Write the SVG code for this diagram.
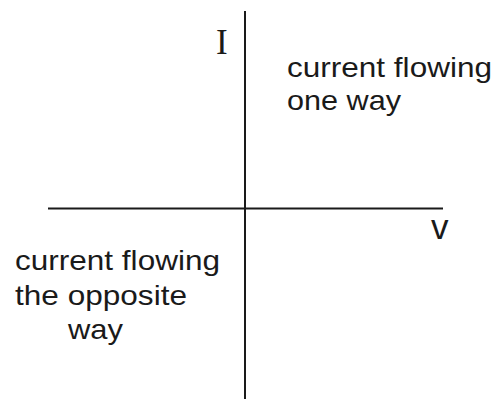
<svg xmlns="http://www.w3.org/2000/svg" width="497" height="399" viewBox="0 0 497 399">
<style>
.ax{stroke:#1a1a1a;stroke-width:2;fill:none}
.t{font-family:"Liberation Sans",Arial,sans-serif;font-size:28px;fill:#1a1a1a}
.s{font-family:"Liberation Serif","Times New Roman",serif;font-size:35px;fill:#1a1a1a}
</style>
<rect width="497" height="399" fill="#ffffff"/>
<g id="axes">
<line class="ax" x1="245" y1="11" x2="245" y2="399"/>
<line class="ax" x1="48" y1="208.5" x2="443" y2="208.5"/>
</g>
<g id="label-I"><text class="s" x="216" y="54">I</text></g>
<g id="label-v"><text class="t" x="431" y="239" style="font-size:35px">v</text></g>
<g id="q1-label">
<text class="t" x="287" y="77" textLength="205" lengthAdjust="spacingAndGlyphs">current flowing</text>
<text class="t" x="287" y="110" textLength="114" lengthAdjust="spacingAndGlyphs">one way</text>
</g>
<g id="q3-label">
<text class="t" x="15" y="270" textLength="205" lengthAdjust="spacingAndGlyphs">current flowing</text>
<text class="t" x="15" y="305" textLength="172" lengthAdjust="spacingAndGlyphs">the opposite</text>
<text class="t" x="68" y="339" textLength="55" lengthAdjust="spacingAndGlyphs">way</text>
</g>
</svg>
